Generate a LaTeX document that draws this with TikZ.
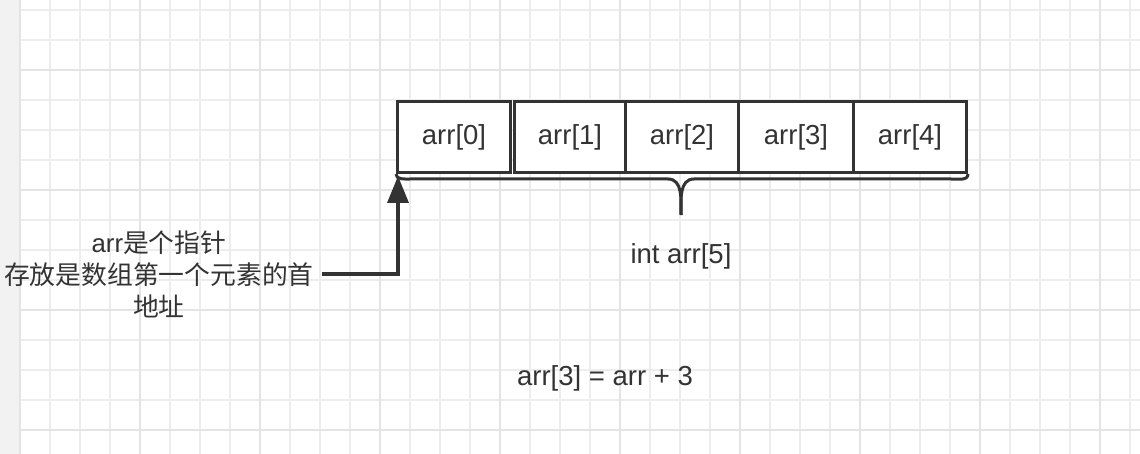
\documentclass[tikz,border=0pt]{standalone}
\usepackage{fontspec}
\setmainfont{Liberation Sans}
\newfontfamily\cjk{Noto Sans CJK SC}
\usetikzlibrary{arrows.meta}
\definecolor{ink}{HTML}{333333}
\definecolor{gridminor}{HTML}{EDEDED}
\definecolor{gridmajor}{HTML}{E4E4E4}
\definecolor{strip}{HTML}{F2F2F2}
\tikzset{
  cell/.style={draw=ink, line width=3pt, fill=white, minimum height=71pt, inner sep=0pt, text=ink, font=\fontsize{27.5}{30}\selectfont, anchor=north west},
  txt/.style={text=ink, font=\fontsize{27.5}{30}\selectfont, inner sep=0pt},
  note/.style={text=ink, align=center, font=\fontsize{25.8}{32}\selectfont, inner xsep=8pt, inner ysep=0pt},
  link/.style={draw=ink, line width=3.5pt, -{Triangle[length=27pt,width=21pt]}},
  brace/.style={draw=ink, line width=3pt, line join=round}
}
\begin{document}
\begin{tikzpicture}[x=1pt,y=-1pt]
\useasboundingbox (0,0) rectangle (1140,454);
\fill[white] (0,0) rectangle (1140,454);
% grid
\foreach \x in {50,80,...,1130} \draw[gridminor, line width=1.5pt] (\x,0) -- (\x,454);
\foreach \y in {10,40,...,450} \draw[gridminor, line width=1.5pt] (20,\y) -- (1140,\y);
\foreach \x in {140,260,...,1130} \draw[gridmajor, line width=2.5pt] (\x,0) -- (\x,454);
\foreach \y in {70,190,310,430} \draw[gridmajor, line width=2.5pt] (20,\y) -- (1140,\y);
\fill[strip] (0,0) rectangle (20,454);
\draw[gridmajor, line width=1.5pt] (20,0) -- (20,454);
% cells
\node[cell, minimum width=113pt] (c0) at (396,100) {arr[0]};
\node[cell, minimum width=111pt] (c1) at (513,100) {arr[1]};
\node[cell, minimum width=113pt] (c2) at (624,100) {arr[2]};
\node[cell, minimum width=115pt] (c3) at (737,100) {arr[3]};
\node[cell, minimum width=113pt] (c4) at (852,100) {arr[4]};
% brace
\coordinate (tipb) at (681,215);
\draw[brace] (c0.south west) to[out=-90,in=180] (410,179) -- (668,179)
  to[out=0,in=90] (tipb);
\draw[brace] (c4.south east) to[out=-90,in=0] (951,179) -- (694,179)
  to[out=180,in=90] (tipb);
% labels
\node[txt] (size) at (681,256) {int arr[5]};
\node[txt] (eq) at (605,378) {arr[3] = arr + 3};
\node[note] (ptr) at (159,274) {arr{\cjk 是个指针}\\{\cjk 存放是数组第一个元素的首}\\{\cjk 地址}};
\coordinate (tip) at (398,176);
\draw[link] (ptr.east) -| (tip);
\end{tikzpicture}
\end{document}
